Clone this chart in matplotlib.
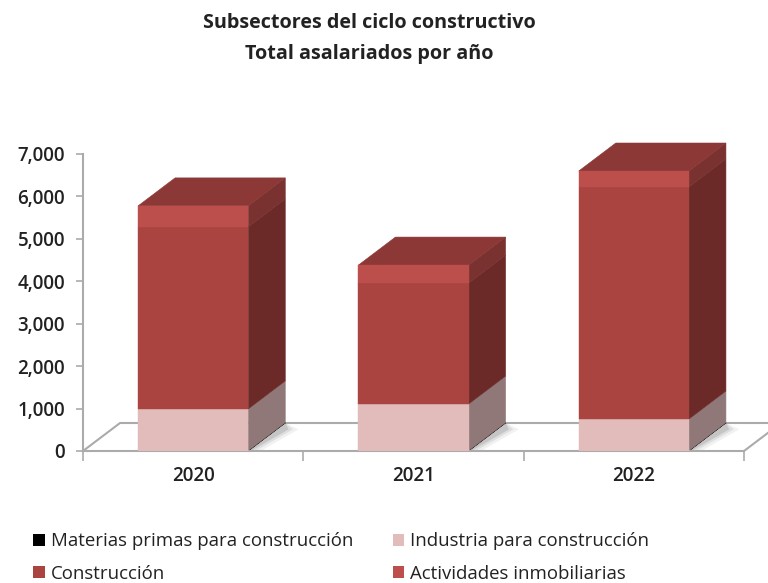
import matplotlib
matplotlib.use("Agg")
import matplotlib.pyplot as plt
from matplotlib.patches import Patch, Polygon

plt.rcParams['font.family'] = ['Open Sans', 'DejaVu Sans']

years = ["2020", "2021", "2022"]
materias = [8, 8, 8]
industria = [984, 1099, 746]
construccion = [4290, 2850, 5470]
actividades = [495, 425, 375]
y_ticks = [0, 1000, 2000, 3000, 4000, 5000, 6000, 7000]

series = [materias, industria, construccion, actividades]
names = ["Materias primas para construcción", "Industria para construcción",
         "Construcción", "Actividades inmobiliarias"]
front = ["#000000", "#E2BBBB", "#A94440", "#BC4F4B"]
side = ["#000000", "#917878", "#6B2A28", "#7A3230"]
top_col = "#8B3836"

# oblique depth of the fake 3d, in data units
dx = 0.168
dy = 660
w = 0.25
grey = "#ABABAB"
ink = "#222222"

fig = plt.figure(figsize=(7.68, 5.83), dpi=100)
ax = fig.add_axes([83/768, (583-451)/583, (744-83)/768, (451-154)/583])
ax.set_xlim(-0.5, 2.5)
ax.set_ylim(0, 7000)

for s in ["top", "right"]:
    ax.spines[s].set_visible(False)
for s in ["left", "bottom"]:
    ax.spines[s].set_color(grey)
    ax.spines[s].set_linewidth(1.5)

ax.set_yticks(y_ticks)
ax.set_yticklabels([f"{v:,}" for v in y_ticks], fontsize=13.5, fontweight=600, color=ink)
ax.set_xticks([-0.5, 0.5, 1.5, 2.5])
ax.set_xticklabels([])
ax.set_xticks(range(len(years)), minor=True)
ax.set_xticklabels(years, minor=True, fontsize=13.5, fontweight=600, color=ink)
ax.tick_params(axis="y", color=grey, width=1.2, length=5, pad=8)
ax.tick_params(axis="x", which="major", color=grey, width=1.2, length=7)
ax.tick_params(axis="x", which="minor", length=0, pad=11)

# floor
floor_x = [-0.5, -0.5 + dx, 2.5 + dx, 2.5]
floor_y = [0, dy, dy, 0]
ax.plot(floor_x, floor_y, color=grey, lw=1.5, clip_on=False, zorder=1)

for i in range(len(years)):
    l, r = i - w, i + w
    # soft shadow on the floor
    for k, a in [(0.06, 0.08), (0.035, 0.12), (0.015, 0.18)]:
        ax.add_patch(Polygon([(l - k, 0), (r, 0), (r + dx, dy), (r + dx + k, dy - 150), (r + k, 10)],
                             closed=True, fc="#555555", ec="none", alpha=a, zorder=1.5, clip_on=False))
    base = 0
    for vals, fc, sc in zip(series, front, side):
        t = base + vals[i]
        ax.add_patch(Polygon([(r, base), (r + dx, base + dy), (r + dx, t + dy), (r, t)],
                             closed=True, fc=sc, ec=sc, lw=0.4, zorder=2.5, clip_on=False))
        ax.bar(i, vals[i], width=2*w, bottom=base, color=fc, ec=fc, lw=0.3, zorder=3)
        base = t
    ax.add_patch(Polygon([(l, base), (r, base), (r + dx, base + dy), (l + dx, base + dy)],
                         closed=True, fc=top_col, ec=top_col, lw=0.4, zorder=2.5, clip_on=False))

fig.text(369/768, 1 - 23/583, "Subsectores del ciclo constructivo", ha="center", va="center",
         fontsize=14.2, fontweight="bold", color=ink)
fig.text(369/768, 1 - 54/583, "Total asalariados por año", ha="center", va="center",
         fontsize=14.2, fontweight="bold", color=ink)

# legend fills column by column
order = [0, 2, 1, 3]
handles = [Patch(fc=front[j], ec="none", label=names[j]) for j in order]
fig.legend(handles=handles, ncols=2, frameon=False, loc="lower left",
           bbox_to_anchor=(26/768, -0.012), fontsize=13.4, labelcolor=ink,
           handlelength=0.62, handleheight=0.62, handletextpad=0.3,
           columnspacing=2.15, labelspacing=0.76, borderaxespad=0)

fig.savefig("out.png", dpi=100)
